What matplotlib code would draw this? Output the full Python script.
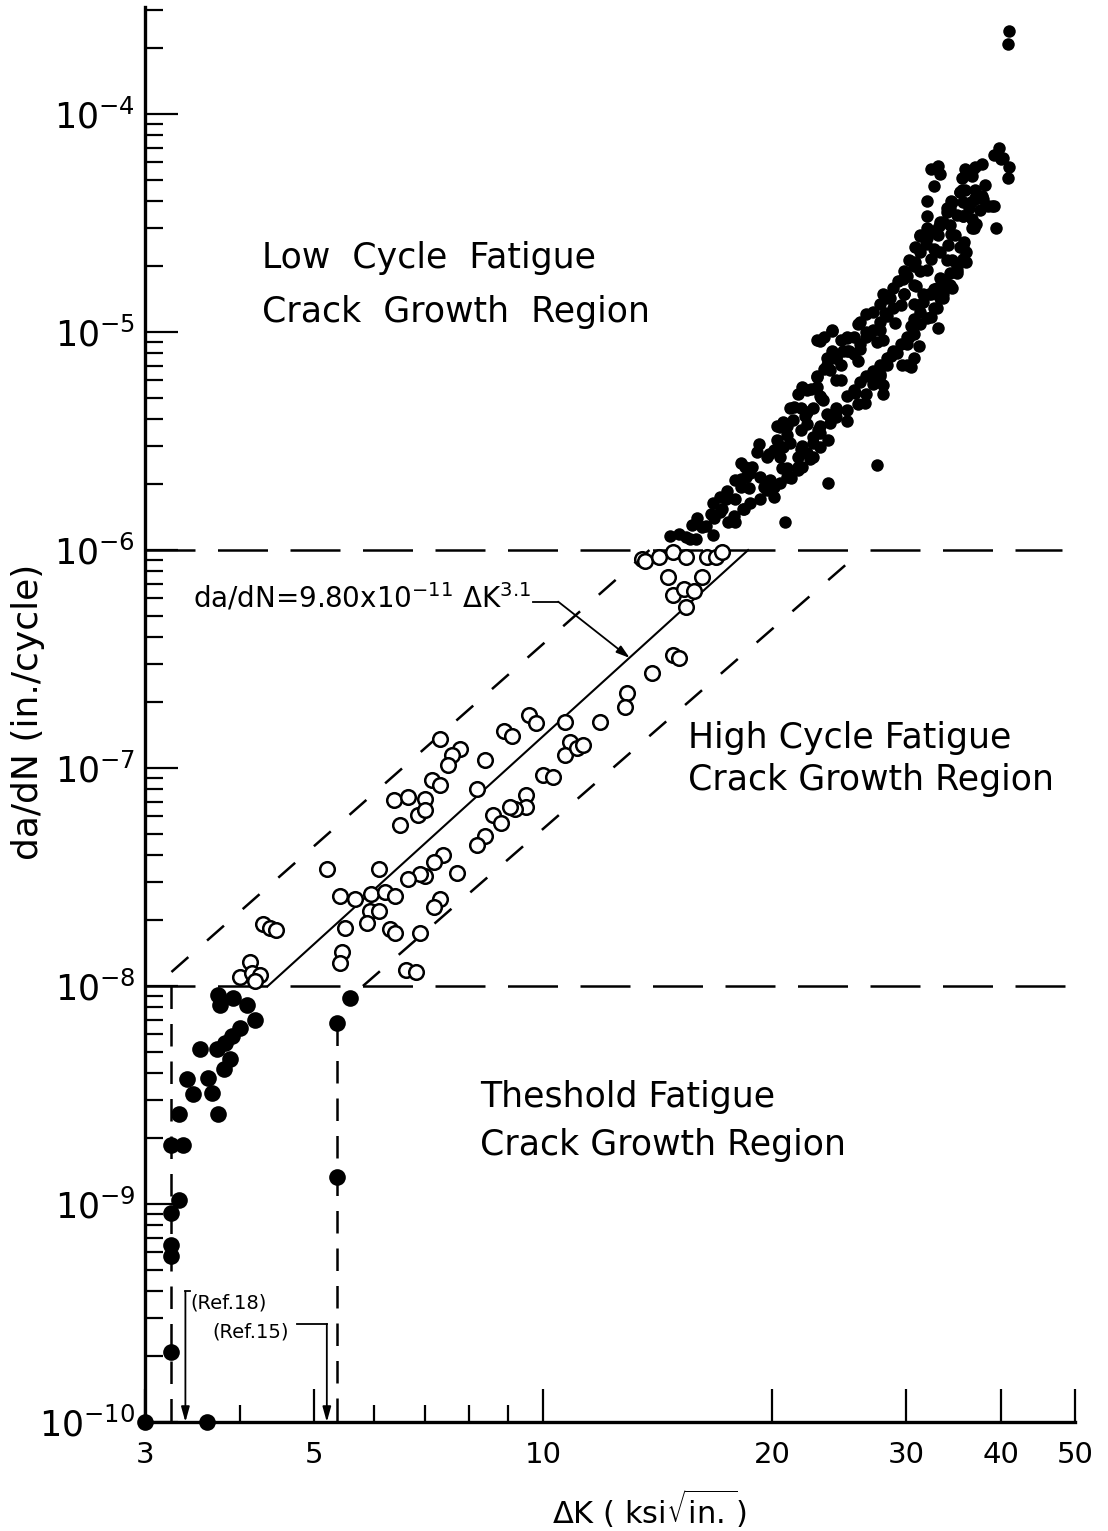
import matplotlib
matplotlib.use("Agg")
from matplotlib import pyplot as plt
from matplotlib.ticker import FixedLocator, FixedFormatter, NullFormatter

# threshold region, large filled dots (Ref.15 / Ref.18 data)
thr_dk = [3.74, 3.76, 3.92, 4.08, 4.18, 4.0, 3.9, 3.82, 3.73, 3.54,
          3.88, 3.81, 3.63, 3.41, 3.47, 3.67, 3.32, 3.74, 3.25, 3.37,
          3.32, 3.25, 3.25, 3.25, 3.25, 3.0, 3.62, 5.58, 5.36, 5.36]
thr_rate = [9.1e-9, 8.2e-9, 8.8e-9, 8.2e-9, 6.95e-9, 6.4e-9, 5.9e-9, 5.5e-9, 5.15e-9, 5.15e-9,
            4.63e-9, 4.17e-9, 3.78e-9, 3.74e-9, 3.19e-9, 3.22e-9, 2.6e-9, 2.6e-9, 1.87e-9, 1.87e-9,
            1.04e-9, 9.1e-10, 6.5e-10, 5.8e-10, 2.1e-10, 1.0e-10, 1.0e-10, 8.8e-9, 6.8e-9, 1.33e-9]

# high cycle region, open circles
mid_dk = [7.33, 7.78, 7.6, 7.5, 7.15, 7.33, 8.4, 8.9, 9.1, 9.6,
          9.8, 6.37, 6.65, 7.0, 6.85, 7.0, 6.49, 8.2, 10.7, 10.85,
          10.7, 11.1, 10.0, 10.3, 9.5, 9.5, 9.2, 9.05, 8.6, 8.8,
          8.4, 8.2, 7.4, 7.2, 7.7, 7.0, 6.9, 6.65, 6.08, 5.2,
          5.41, 5.66, 5.95, 6.2, 6.4, 5.92, 6.08, 5.88, 5.5, 7.33,
          7.2, 6.3, 6.4, 6.9, 5.45, 5.41, 6.6, 6.8, 4.29, 4.38,
          4.46, 4.12, 4.0, 4.15, 4.25, 4.18,
          13.5, 13.6, 14.2, 14.8, 15.4, 16.4, 16.9, 17.2, 14.6, 16.2,
          14.8, 15.3, 15.8, 15.4, 14.8, 15.1, 13.9, 12.9, 12.8, 11.9, 11.3]
mid_rate = [1.36e-7, 1.22e-7, 1.15e-7, 1.03e-7, 8.8e-8, 8.4e-8, 1.09e-7, 1.48e-7, 1.40e-7, 1.75e-7,
            1.61e-7, 7.1e-8, 7.4e-8, 7.2e-8, 6.1e-8, 6.4e-8, 5.5e-8, 8.0e-8, 1.62e-7, 1.31e-7,
            1.15e-7, 1.24e-7, 9.3e-8, 9.1e-8, 7.5e-8, 6.65e-8, 6.5e-8, 6.65e-8, 6.1e-8, 5.6e-8,
            4.86e-8, 4.45e-8, 4.0e-8, 3.7e-8, 3.3e-8, 3.2e-8, 3.25e-8, 3.1e-8, 3.45e-8, 3.45e-8,
            2.59e-8, 2.5e-8, 2.65e-8, 2.7e-8, 2.59e-8, 2.2e-8, 2.2e-8, 1.95e-8, 1.85e-8, 2.5e-8,
            2.3e-8, 1.83e-8, 1.75e-8, 1.75e-8, 1.43e-8, 1.27e-8, 1.18e-8, 1.16e-8, 1.93e-8, 1.85e-8,
            1.8e-8, 1.29e-8, 1.1e-8, 1.15e-8, 1.12e-8, 1.06e-8,
            9.1e-7, 8.9e-7, 9.3e-7, 9.8e-7, 9.3e-7, 9.3e-7, 9.3e-7, 9.8e-7, 7.5e-7, 7.5e-7,
            6.2e-7, 6.65e-7, 6.5e-7, 5.5e-7, 3.3e-7, 3.2e-7, 2.73e-7, 2.2e-7, 1.9e-7, 1.62e-7, 1.28e-7]

# low cycle region, small filled dots
low_dk = [14.7, 15.1, 15.4, 15.9, 15.7, 16.2, 16.6, 16.8, 17.1, 17.4,
          17.2, 17.8, 17.9, 17.9, 18.2, 18.5, 18.4, 18.8, 19.1, 19.3,
          19.9, 19.7, 20.1, 20.3, 20.5, 18.3, 18.7, 19.3, 19.7, 20.1,
          20.5, 21.1, 21.6, 21.9, 22.6, 23.1, 20.8, 23.7, 27.5,
          20.7, 21.1, 21.6, 21.9, 22.2, 22.9, 23.1, 23.6, 24.0, 24.3,
          25.1, 25.6, 26.1, 27.1, 27.7, 28.3, 28.8, 29.5, 30.1, 30.7,
          31.3, 32.0, 32.6, 33.5, 33.9, 34.5, 35.3, 36.0, 36.6, 35.6,
          36.3, 37.0, 37.7, 38.9, 39.4, 36.6, 36.0, 35.6, 36.0, 35.0,
          34.5, 33.9, 33.2, 32.6,
          22.9, 23.4, 24.0, 24.6, 24.8, 24.3, 23.6, 23.4, 24.6, 25.6,
          26.1, 26.6, 27.1, 27.7, 28.3, 28.8, 28.0,
          20.9, 21.6, 21.9, 22.6, 23.1, 23.6, 24.3, 25.1, 25.6, 26.1,
          26.6, 27.1, 27.7, 28.3, 28.8, 29.5, 30.1, 30.4, 30.7, 31.3,
          31.6, 32.3, 32.9, 33.5, 34.3, 35.0, 35.6, 30.7, 30.4, 28.0, 27.7,
          40.9, 40.8, 39.7, 40.2, 41.0, 40.8, 39.1, 37.7, 32.3, 33.0,
          33.2, 32.6, 32.0, 32.0, 32.0, 31.3, 30.8, 30.3, 29.8, 29.3,
          23.1, 24.0, 25.1, 25.9, 26.6, 27.7, 28.6, 29.8, 22.9, 23.6,
          24.3, 25.1, 26.1, 26.9, 22.2, 22.9, 23.3, 22.6, 21.8, 21.3,
          20.9, 21.8, 20.7, 21.1, 22.2, 20.5,
          20.9, 21.6, 22.2, 22.6, 23.1, 23.8, 24.3, 25.1, 25.9, 26.6,
          27.1, 27.7, 28.3, 29.2, 30.1, 30.7, 31.3, 32.3, 32.9, 33.5, 30.1,
          40.0, 37.0, 35.8, 35.5, 36.6, 35.8, 35.3, 37.0, 34.4, 35.6,
          36.5, 37.9, 39.1, 37.5, 33.9, 35.0, 36.6, 33.2, 34.3, 36.8,
          31.3, 33.0, 34.8, 32.6, 34.0, 35.3, 32.3, 33.9, 31.3, 35.0,
          30.7, 32.6, 34.3, 28.0, 31.6, 33.5,
          18.7, 19.8, 20.9, 22.1, 23.2, 24.6, 25.9, 27.5, 29.0, 30.7,
          18.2, 19.2, 20.3, 21.4, 22.5, 23.8, 25.2, 26.6, 28.1, 29.8,
          19.5, 20.6, 21.8, 23.0, 24.3, 25.7, 27.1, 28.7, 30.3, 32.0,
          20.1, 21.2, 22.4, 23.7, 25.1, 26.5, 27.95, 29.6, 31.2, 33.0,
          30.9, 32.0, 33.2, 34.4, 35.6, 37.0, 38.1,
          32.1, 33.2, 34.5, 35.7, 37.1, 38.4,
          29.7, 30.8, 31.9, 33.1, 34.3, 35.5,
          15.6, 16.35, 17.1, 17.9, 18.65, 16.75, 17.5, 18.35, 15.95, 16.7, 17.45, 18.2]
low_rate = [1.16e-6, 1.18e-6, 1.15e-6, 1.12e-6, 1.31e-6, 1.27e-6, 1.46e-6, 1.41e-6, 1.76e-6, 1.71e-6,
            1.54e-6, 1.43e-6, 1.34e-6, 2.10e-6, 1.95e-6, 2.16e-6, 2.41e-6, 2.41e-6, 2.82e-6, 2.16e-6,
            2.10e-6, 2.67e-6, 2.88e-6, 3.20e-6, 3.67e-6, 1.54e-6, 1.65e-6, 1.71e-6, 1.89e-6, 1.95e-6,
            2.03e-6, 2.16e-6, 2.33e-6, 2.41e-6, 2.67e-6, 2.97e-6, 1.35e-6, 2.03e-6, 2.46e-6,
            3.85e-6, 4.5e-6, 5.2e-6, 5.6e-6, 4.3e-6, 6.3e-6, 5.1e-6, 7.1e-6, 8.2e-6, 6.0e-6,
            9.5e-6, 7.9e-6, 1.11e-5, 1.23e-5, 1.02e-5, 1.44e-5, 1.60e-5, 1.33e-5, 1.80e-5, 2.0e-5,
            2.33e-5, 2.7e-5, 2.9e-5, 3.2e-5, 3.7e-5, 3.94e-5, 4.4e-5, 5.3e-5, 5.5e-5, 3.4e-5,
            3.7e-5, 4.1e-5, 4.2e-5, 3.8e-5, 3.0e-5, 3.0e-5, 2.33e-5, 2.5e-5, 2.1e-5, 1.87e-5,
            1.60e-5, 1.67e-5, 1.44e-5, 1.29e-5,
            9.2e-6, 9.5e-6, 1.02e-5, 9.2e-6, 8.2e-6, 7.6e-6, 7.6e-6, 6.8e-6, 7.1e-6, 9.5e-6,
            8.8e-6, 9.5e-6, 1.02e-5, 1.11e-5, 1.19e-5, 1.29e-5, 9.2e-6,
            2.38e-6, 2.67e-6, 3.0e-6, 3.3e-6, 3.7e-6, 4.2e-6, 4.5e-6, 5.1e-6, 5.4e-6, 5.9e-6,
            6.3e-6, 6.6e-6, 7.1e-6, 7.6e-6, 8.2e-6, 8.8e-6, 9.5e-6, 1.07e-5, 1.15e-5, 1.23e-5,
            1.38e-5, 1.49e-5, 1.60e-5, 1.71e-5, 1.87e-5, 2.0e-5, 2.16e-5, 7.6e-6, 6.9e-6, 5.2e-6, 6.3e-6,
            2.4e-4, 2.1e-4, 7.0e-5, 6.3e-5, 5.7e-5, 5.1e-5, 6.5e-5, 5.9e-5, 5.6e-5, 5.8e-5,
            5.3e-5, 4.7e-5, 4.0e-5, 3.4e-5, 3.0e-5, 2.75e-5, 2.45e-5, 2.15e-5, 1.9e-5, 1.71e-5,
            9.1e-6, 1.01e-5, 9.4e-6, 1.09e-5, 1.21e-5, 1.34e-5, 1.43e-5, 1.49e-5, 6.2e-6, 6.9e-6,
            7.6e-6, 8.2e-6, 8.4e-6, 9.8e-6, 5.4e-6, 5.6e-6, 4.9e-6, 4.5e-6, 4.5e-6, 3.94e-6,
            3.7e-6, 3.55e-6, 2.97e-6, 3.1e-6, 3.8e-6, 2.67e-6,
            2.16e-6, 2.41e-6, 2.79e-6, 3.1e-6, 3.45e-6, 3.82e-6, 4.06e-6, 4.37e-6, 4.7e-6, 5.2e-6,
            5.8e-6, 6.4e-6, 7.1e-6, 8.0e-6, 8.8e-6, 9.8e-6, 1.09e-5, 1.17e-5, 1.29e-5, 1.43e-5, 7.1e-6,
            6.2e-5, 5.7e-5, 5.6e-5, 5.1e-5, 5.2e-5, 4.5e-5, 4.4e-5, 4.5e-5, 4.0e-5, 3.94e-5,
            3.94e-5, 4.06e-5, 3.8e-5, 3.65e-5, 3.55e-5, 3.45e-5, 3.3e-5, 3.2e-5, 3.1e-5, 3.0e-5,
            2.8e-5, 2.8e-5, 2.8e-5, 2.4e-5, 2.5e-5, 2.45e-5, 2.17e-5, 2.15e-5, 1.9e-5, 1.93e-5,
            1.65e-5, 1.58e-5, 1.65e-5, 1.49e-5, 1.49e-5, 1.49e-5,
            2.26e-6, 2.76e-6, 3.37e-6, 4.11e-6, 4.96e-6, 6.05e-6, 7.38e-6, 9.0e-6, 1.10e-5, 1.34e-5,
            2.51e-6, 3.06e-6, 3.70e-6, 4.51e-6, 5.51e-6, 6.72e-6, 8.2e-6, 1.0e-5, 1.22e-5, 1.49e-5,
            1.95e-6, 2.38e-6, 2.91e-6, 3.55e-6, 4.33e-6, 5.28e-6, 6.38e-6, 7.78e-6, 9.5e-6, 1.16e-5,
            1.76e-6, 2.15e-6, 2.62e-6, 3.2e-6, 3.9e-6, 4.75e-6, 5.74e-6, 7.08e-6, 8.6e-6, 1.04e-5,
            1.62e-5, 1.93e-5, 2.33e-5, 2.82e-5, 3.4e-5, 4.11e-5, 4.75e-5,
            1.49e-5, 1.78e-5, 2.15e-5, 2.59e-5, 3.13e-5, 3.78e-5,
            1.76e-5, 2.10e-5, 2.54e-5, 3.06e-5, 3.7e-5, 4.47e-5,
            1.12e-6, 1.29e-6, 1.49e-6, 1.71e-6, 1.93e-6, 1.17e-6, 1.35e-6, 1.55e-6, 1.41e-6, 1.64e-6,
            1.87e-6, 2.12e-6]

# fitted law and scatter band
fit_dk = [4.35, 18.6]
fit_rate = [1e-8, 1e-6]
upper_band_dk = [3.25, 13.8]
upper_band_rate = [1.16e-8, 1e-6]
lower_band_dk = [5.8, 26.3]
lower_band_rate = [1e-8, 1e-6]

# region boundaries
bound_rate = [1e-6, 1e-8]
bound_dk_end = [48, 50]
thr_limit_dk = [3.25, 5.36]
thr_limit_top = [1e-8, 6.8e-9]
ref_dk = [3.39, 5.20]
ref_top = [3.97e-10, 2.82e-10]

xticks = [3, 5, 10, 20, 30, 40, 50]
xtick_labels = ["3", "5", "10", "20", "30", "40", "50"]
xminor = [4, 6, 7, 8, 9]
ydecades = [-10, -9, -8, -7, -6, -5, -4]

W, H = 1108, 1531


def fpos(x, y):
    return x / W, 1 - y / H


plt.rcParams['font.family'] = ['DejaVu Sans']
plt.rcParams['mathtext.default'] = 'regular'

fig = plt.figure(figsize=(W / 100, H / 100), dpi=100)
ax = fig.add_axes([145 / W, 1 - 1422 / H, (1075 - 145) / W, (1422 - 7) / H])
ax.set_xscale('log')
ax.set_yscale('log')
ax.set_xlim(3, 50)
ax.set_ylim(1e-10, 3.1e-4)

# dashed boundaries
for r, xe in zip(bound_rate, bound_dk_end):
    ax.plot([3, xe], [r, r], color='black', lw=1.8, dashes=(20, 9), clip_on=False)
for xd, top in zip(thr_limit_dk, thr_limit_top):
    ax.plot([xd, xd], [top, 1e-10], color='black', lw=1.8, dashes=(9, 6))
ax.plot(upper_band_dk, upper_band_rate, color='black', lw=1.8, dashes=(9, 10))
ax.plot(lower_band_dk, lower_band_rate, color='black', lw=1.8, dashes=(9, 10))
ax.plot(fit_dk, fit_rate, color='black', lw=1.5)

# data
ax.plot(low_dk, low_rate, 'o', color='black', ms=9, mew=0, clip_on=False)
ax.plot(mid_dk, mid_rate, 'o', mfc='white', mec='black', ms=10.5, mew=1.8)
ax.plot(thr_dk, thr_rate, 'o', color='black', ms=12, mew=0, clip_on=False)

# reference arrows
arrow = dict(arrowstyle='-|>,head_length=0.9,head_width=0.25', color='black', lw=1.3,
             shrinkA=0, shrinkB=0)
ax.annotate('', xy=(ref_dk[0], 1e-10), xytext=(ref_dk[0], ref_top[0]), arrowprops=arrow)
ax.plot([ref_dk[0], 3.44], [ref_top[0], ref_top[0]], color='black', lw=1.3)
ax.annotate('', xy=(ref_dk[1], 1e-10), xytext=(ref_dk[1], ref_top[1]), arrowprops=arrow)
ax.plot([4.75, ref_dk[1]], [ref_top[1], ref_top[1]], color='black', lw=1.3)
fig.text(*fpos(190, 1303), "(Ref.18)", fontsize=14, va='center', ha='left')
fig.text(*fpos(212, 1332), "(Ref.15)", fontsize=14, va='center', ha='left')

# formula with leader
fig.text(*fpos(193, 598), r"da/dN=9.80x10$^{-11}$ $\Delta$K$^{3.1}$", fontsize=20,
         va='center', ha='left')
ax.plot([9.71, 10.47], [5.8e-7, 5.8e-7], color='black', lw=1.3)
ax.annotate('', xy=(13.0, 3.2e-7), xytext=(10.47, 5.8e-7),
            arrowprops=dict(arrowstyle='-|>,head_length=0.8,head_width=0.25',
                            color='black', lw=1.3, shrinkA=0, shrinkB=0))

# region labels
fs = 25
fig.text(*fpos(262, 258), "Low  Cycle  Fatigue", fontsize=fs, va='center')
fig.text(*fpos(262, 312), "Crack  Growth  Region", fontsize=fs, va='center')
fig.text(*fpos(688, 738), "High Cycle Fatigue", fontsize=fs, va='center')
fig.text(*fpos(688, 780), "Crack Growth Region", fontsize=fs, va='center')
fig.text(*fpos(480, 1097), "Theshold Fatigue", fontsize=fs, va='center')
fig.text(*fpos(480, 1145), "Crack Growth Region", fontsize=fs, va='center')

# axes styling
for s in ['top', 'right']:
    ax.spines[s].set_visible(False)
for s in ['left', 'bottom']:
    ax.spines[s].set_linewidth(2.4)

ax.xaxis.set_major_locator(FixedLocator(xticks))
ax.xaxis.set_major_formatter(FixedFormatter(xtick_labels))
ax.xaxis.set_minor_locator(FixedLocator(xminor))
ax.xaxis.set_minor_formatter(NullFormatter())
ax.yaxis.set_major_locator(FixedLocator([10.0 ** e for e in ydecades]))
ax.yaxis.set_major_formatter(FixedFormatter(["$10^{%d}$" % e for e in ydecades]))
yminor = [m * 10.0 ** e for e in ydecades for m in range(2, 10) if m * 10.0 ** e <= 3.1e-4]
ax.yaxis.set_minor_locator(FixedLocator(yminor))
ax.yaxis.set_minor_formatter(NullFormatter())

ax.tick_params(axis='x', which='major', direction='in', length=24, width=1.6, pad=14, labelsize=21)
ax.tick_params(axis='x', which='minor', direction='in', length=12, width=1.6)
ax.tick_params(axis='y', which='major', direction='in', length=24, width=1.6, pad=7, labelsize=25)
ax.tick_params(axis='y', which='minor', direction='in', length=13, width=1.6)

fig.text(*fpos(649, 1509), r"$\Delta$K ( ksi$\sqrt{\rm in.}$)", fontsize=22, ha='center', va='center')
fig.text(*fpos(28, 712), "da/dN (in./cycle)", fontsize=26, rotation=90, ha='center', va='center')

fig.savefig("out.png", dpi=100)
